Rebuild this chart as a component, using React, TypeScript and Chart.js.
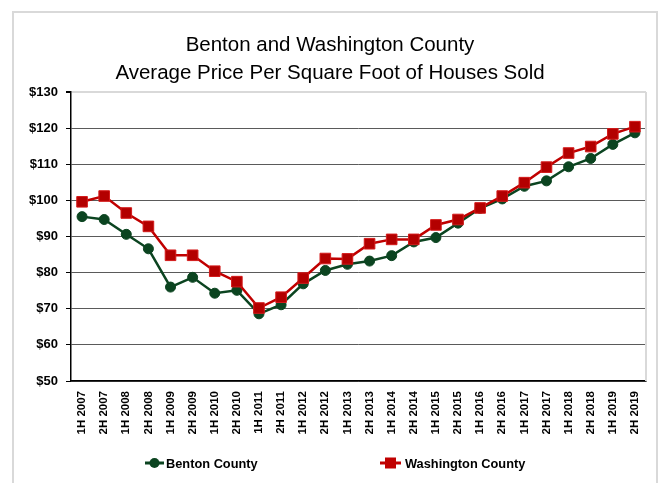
import React, { useEffect, useRef } from "react";
import { Chart, registerables } from "chart.js";

Chart.register(...registerables);

const categories = [
  "1H 2007", "2H 2007", "1H 2008", "2H 2008", "1H 2009", "2H 2009",
  "1H 2010", "2H 2010", "1H 2011", "2H 2011", "1H 2012", "2H 2012",
  "1H 2013", "2H 2013", "1H 2014", "2H 2014", "1H 2015", "2H 2015",
  "1H 2016", "2H 2016", "1H 2017", "2H 2017", "1H 2018", "2H 2018",
  "1H 2019", "2H 2019",
];

const bentonValues = [
  95.5, 94.7, 90.6, 86.6, 76.0, 78.7, 74.3, 75.1, 68.6, 71.1, 76.9, 80.6,
  82.3, 83.2, 84.7, 88.5, 89.7, 93.7, 97.8, 100.4, 103.9, 105.4, 109.3, 111.6,
  115.5, 118.7,
];

const washingtonValues = [
  99.6, 101.2, 96.5, 92.8, 84.8, 84.8, 80.4, 77.5, 70.2, 73.2, 78.5, 83.9,
  83.8, 88.0, 89.2, 89.2, 93.2, 94.7, 97.9, 101.2, 104.9, 109.2, 113.1, 114.9,
  118.4, 120.4,
];

const yTicks = [50, 60, 70, 80, 90, 100, 110, 120, 130];

const titleLines = [
  "Benton and Washington County",
  "Average Price Per Square Foot of Houses Sold",
];

const seriesNames = ["Benton County", "Washington County"];

const BENTON = "#0b4420";
const WASH = "#c00000";
const WASH_EDGE = "#d41a1a";

export default function App() {
  const ref = useRef<HTMLCanvasElement | null>(null);

  useEffect(() => {
    document.body.style.margin = "0";
    const canvas = ref.current;
    if (!canvas) return;

    const decor = {
      id: "decor",
      beforeDraw(chart: any) {
        const ctx = chart.ctx;
        ctx.save();
        ctx.fillStyle = "#ffffff";
        ctx.fillRect(0, 0, chart.width, chart.height);
        ctx.strokeStyle = "#d9d9d9";
        ctx.lineWidth = 2;
        ctx.strokeRect(13, 12, 644, 474);
        ctx.restore();
      },
      afterDatasetsDraw(chart: any) {},
      afterDraw(chart: any) {
        const ctx = chart.ctx;
        const ca = chart.chartArea;
        ctx.save();
        // right border of plot area
        ctx.strokeStyle = "#d9d9d9";
        ctx.lineWidth = 2;
        ctx.beginPath();
        ctx.moveTo(ca.right, ca.top);
        ctx.lineTo(ca.right, ca.bottom);
        ctx.stroke();
        // title
        ctx.fillStyle = "#000";
        ctx.font = '20.5px "Liberation Sans", Arial, sans-serif';
        ctx.textAlign = "center";
        ctx.textBaseline = "alphabetic";
        ctx.fillText(titleLines[0], 330, 51);
        ctx.fillText(titleLines[1], 330, 79);
        // legend
        const ly = 463;
        ctx.font = 'bold 12.8px "Liberation Sans", Arial, sans-serif';
        ctx.textAlign = "left";
        ctx.textBaseline = "middle";
        // Benton
        ctx.strokeStyle = BENTON;
        ctx.lineWidth = 3;
        ctx.beginPath();
        ctx.moveTo(145, ly);
        ctx.lineTo(164, ly);
        ctx.stroke();
        ctx.fillStyle = BENTON;
        ctx.beginPath();
        ctx.arc(154.5, ly, 5, 0, Math.PI * 2);
        ctx.fill();
        ctx.fillStyle = "#000";
        ctx.fillText(seriesNames[0], 166, ly + 1);
        // Washington
        ctx.strokeStyle = WASH;
        ctx.beginPath();
        ctx.moveTo(380, ly);
        ctx.lineTo(401, ly);
        ctx.stroke();
        ctx.fillStyle = WASH;
        ctx.fillRect(385, ly - 5.5, 11, 11);
        ctx.fillStyle = "#000";
        ctx.fillText(seriesNames[1], 405, ly + 1);
        ctx.restore();
      },
    };

    const chart = new Chart(canvas, {
      type: "line",
      data: {
        labels: categories,
        datasets: [
          {
            label: seriesNames[0],
            data: bentonValues,
            borderColor: BENTON,
            backgroundColor: BENTON,
            pointBackgroundColor: BENTON,
            pointBorderColor: BENTON,
            borderWidth: 2.5,
            pointStyle: "circle",
            pointRadius: 5,
            pointBorderWidth: 1,
            order: 1,
          },
          {
            label: seriesNames[1],
            data: washingtonValues,
            borderColor: WASH,
            backgroundColor: WASH,
            pointBackgroundColor: "#b30000",
            pointBorderColor: WASH_EDGE,
            borderWidth: 2.5,
            pointStyle: "rect",
            pointRadius: 7.5,
            pointBorderWidth: 1,
            order: 0,
          },
        ],
      },
      options: {
        responsive: false,
        animation: false,
        devicePixelRatio: 1,
        layout: { padding: { top: 92, left: 0, right: 14, bottom: 32 } },
        plugins: {
          legend: { display: false },
          title: { display: false },
          tooltip: { enabled: false },
        },
        scales: {
          x: {
            type: "category",
            offset: true,
            grid: { display: false, drawTicks: false },
            border: { display: true, color: "#000", width: 1.5 },
            ticks: {
              minRotation: 90,
              maxRotation: 90,
              autoSkip: false,
              padding: 10,
              color: "#000",
              font: { family: '"Liberation Sans", Arial, sans-serif', size: 11.5, weight: "bold" },
            },
            afterFit(scale: any) {
              scale.height = 70;
            },
          },
          y: {
            min: 50,
            max: 130,
            afterBuildTicks(scale: any) {
              scale.ticks = yTicks.map((v) => ({ value: v }));
            },
            grid: {
              color: (c: any) => (c.tick && c.tick.value === 130 ? "#d9d9d9" : "#5a5a5a"),
              lineWidth: (c: any) => (c.tick && c.tick.value === 130 ? 2 : 1),
              tickColor: "#000",
              tickLength: 5,
              drawTicks: true,
            },
            border: { display: true, color: "#000", width: 1.5 },
            ticks: {
              padding: 8,
              color: "#000",
              font: { family: '"Liberation Sans", Arial, sans-serif', size: 13, weight: "bold" },
              callback: (v: any) => "$" + v,
            },
            afterFit(scale: any) {
              scale.width = 71;
            },
          },
        },
      },
      plugins: [decor],
    } as any);

    return () => chart.destroy();
  }, []);

  return (
    <div style={{ width: 660, height: 483, position: "relative" }}>
      <canvas ref={ref} width={660} height={483} style={{ display: "block" }} />
    </div>
  );
}
